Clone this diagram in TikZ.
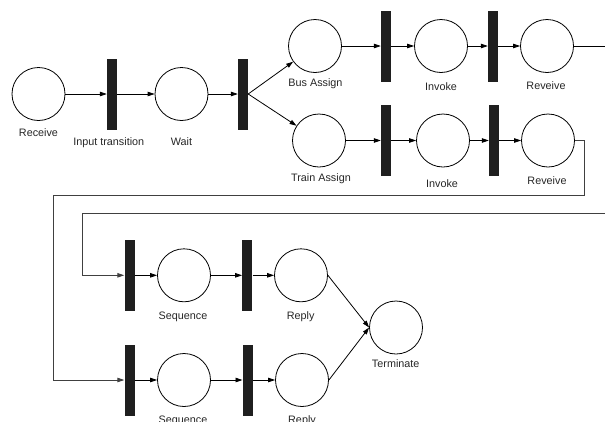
\documentclass[tikz,border=0pt]{standalone}
\usepackage{fontspec}
\setmainfont{Liberation Sans}
\usetikzlibrary{arrows.meta}
\begin{document}
\begin{tikzpicture}[x=1pt,y=-1pt,
  place/.style={circle,draw=black,line width=0.8pt,minimum size=53pt,inner sep=0pt},
  trans/.style={rectangle,fill=black!88,draw=none,minimum width=10pt,minimum height=71pt,inner sep=0pt},
  lbl/.style={anchor=base,inner sep=0pt,text=black!85,font=\fontsize{10.8}{12}\selectfont},
  tip/.style={-{Triangle[length=7pt,width=4.5pt]}},
  arc/.style={draw=black,line width=0.8pt,tip},
  link/.style={draw=black!75,line width=0.9pt},
  ]
\useasboundingbox (0,0) rectangle (605,421);

% entry row
\node[place] (recv) at (38.5,94) {};
\node[trans] (t1)   at (112,94) {};
\node[place] (wait) at (181.5,94) {};
\node[trans] (t2)   at (243,94) {};

% bus branch
\node[place] (bus)   at (315,46) {};
\node[trans] (ta1)   at (386,46) {};
\node[place] (invA)  at (441,46) {};
\node[trans] (ta2)   at (493,46) {};
\node[place] (revA)  at (547,46) {};

% train branch
\node[place] (train) at (319,140.5) {};
\node[trans] (tb1)   at (386,140.5) {};
\node[place] (invB)  at (443,140.5) {};
\node[trans] (tb2)   at (494,140.5) {};
\node[place] (revB)  at (548,140.5) {};

% sequence rows
\node[trans] (tc1)   at (129.5,275.3) {};
\node[place] (seqC)  at (184,275.3) {};
\node[trans] (tc2)   at (247.3,275.3) {};
\node[place] (repC)  at (301,275.3) {};

\node[trans] (td1)   at (129.5,380) {};
\node[place] (seqD)  at (184,380) {};
\node[trans] (td2)   at (247.7,380) {};
\node[place] (repD)  at (302,380) {};

\node[place] (term)  at (396,327.5) {};

% labels
\node[lbl] (lrecv)  at (38.5,136.7) {Receive};
\node[lbl] (lt1)    at (108.8,145) {Input transition};
\node[lbl] (lwait)  at (181.4,145) {Wait};
\node[lbl] (lbus)   at (315.5,86.5) {Bus Assign};
\node[lbl] (linvA)  at (441,90.6) {Invoke};
\node[lbl] (lrevA)  at (546,89.6) {Reveive};
\node[lbl] (ltrain) at (321,181) {Train Assign};
\node[lbl] (linvB)  at (442,187) {Invoke};
\node[lbl] (lrevB)  at (547,184) {Reveive};
\node[lbl] (lseqC)  at (183,319.5) {Sequence};
\node[lbl] (lrepC)  at (300.7,319.5) {Reply};
\node[lbl] (lterm)  at (395.7,367.5) {Terminate};
\node[lbl] (lseqD)  at (183,423.5) {Sequence};
\node[lbl] (lrepD)  at (302,423) {Reply};

% bend points of the long return lines
\coordinate (outA) at (605,46);
\coordinate (rb1)  at (584,195.5);
\coordinate (rb2)  at (53,195.5);
\coordinate (inR)  at (605,213.3);
\coordinate (inL)  at (82,213.3);

% arcs
\draw[arc] (recv) -- (t1);
\draw[arc] (t1) -- (wait);
\draw[arc] (wait) -- (t2);
\draw[arc] (t2.east) -- (bus);
\draw[arc] (t2.east) -- (train);

\draw[arc] (bus) -- (ta1);
\draw[arc] (ta1) -- (invA);
\draw[arc] (invA) -- (ta2);
\draw[arc] (ta2) -- (revA);
\draw[draw=black,line width=0.8pt] (revA) -- (outA);

\draw[arc] (train) -- (tb1);
\draw[arc] (tb1) -- (invB);
\draw[arc] (invB) -- (tb2);
\draw[arc] (tb2) -- (revB);

\draw[link,tip] (revB.east) -| (rb1) -- (rb2) |- (td1);
\draw[link,tip] (inR) -- (inL) |- (tc1);

\draw[arc] (tc1) -- (seqC);
\draw[arc] (seqC) -- (tc2);
\draw[arc] (tc2) -- (repC);
\draw[arc] (repC.east) -- (term.west);

\draw[arc] (td1) -- (seqD);
\draw[arc] (seqD) -- (td2);
\draw[arc] (td2) -- (repD);
\draw[arc] (repD.east) -- (term.west);
\end{tikzpicture}
\end{document}
